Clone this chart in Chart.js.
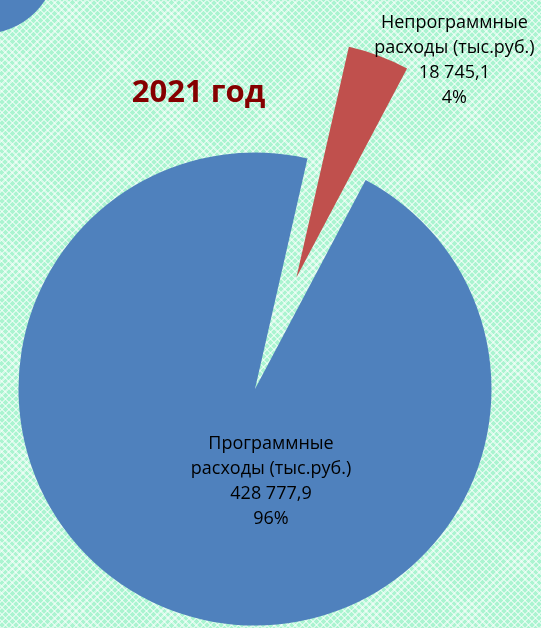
<!DOCTYPE html>
<html>
<head>
<meta charset="utf-8">
<script src="https://cdn.jsdelivr.net/npm/chart.js@4.4.1/dist/chart.umd.min.js"></script>
<style>
  html, body { margin: 0; padding: 0; }
  body {
    width: 541px; height: 628px; overflow: hidden; position: relative;
    background-color: #aaf4d0;
    background-image:
      repeating-linear-gradient(45deg, rgba(255,255,255,0.55) 0px, rgba(255,255,255,0.55) 1.6px, rgba(255,255,255,0) 1.6px, rgba(255,255,255,0) 5px),
      repeating-linear-gradient(-45deg, rgba(255,255,255,0.55) 0px, rgba(255,255,255,0.55) 1.6px, rgba(255,255,255,0) 1.6px, rgba(255,255,255,0) 5px);
  }
  #main { position: absolute; left: 0; top: 0; }
  #prev { position: absolute; left: -117px; top: -140px; }
  #title {
    position: absolute; left: 0; top: 75px; width: 397px; text-align: center;
    font: bold 31px "Open Sans", sans-serif; line-height: 1; color: #850000;
  }
</style>
</head>
<body>
<canvas id="prev" width="200" height="200"></canvas>
<canvas id="main" width="541" height="628"></canvas>
<div id="title">2021 год</div>
<script>
// ---- data ----
const categories = ['Программные расходы (тыс.руб.)', 'Непрограммные расходы (тыс.руб.)'];
const values = [428777.9, 18745.1];
const sliceColors = ['#4f81bd', '#c0504d'];
// fragment of the neighbouring chart visible at top-left corner
const prevCategories = ['Расходы'];
const prevValues = [1];
const prevColors = ['#4f81bd'];

// explosion distance of each slice (px, along its mid-angle)
const explode = [50.6, 68.4];

function fmt(v) {
  const parts = v.toFixed(1).split('.');
  return parts[0].replace(/\B(?=(\d{3})+(?!\d))/g, ' ') + ',' + parts[1];
}

function sliceCenter(arc, i) {
  const p = arc.getProps(['x', 'y', 'startAngle', 'endAngle'], true);
  const half = (p.startAngle + p.endAngle) / 2;
  const d = explode[i] || 0;
  return { x: p.x + Math.cos(half) * d, y: p.y + Math.sin(half) * d, dx: Math.cos(half) * d, dy: Math.sin(half) * d };
}

const explodePlugin = {
  id: 'explodeSlices',
  beforeDatasetDraw(chart, args) {
    const ctx = chart.ctx;
    args.meta.data.forEach((arc, i) => {
      const c = sliceCenter(arc, i);
      ctx.save();
      ctx.translate(c.dx, c.dy);
      arc.draw(ctx, chart.chartArea);
      ctx.restore();
    });
    return false;
  }
};

const labelPlugin = {
  id: 'sliceLabels',
  afterDatasetsDraw(chart, args, opts) {
    const ctx = chart.ctx;
    const meta = chart.getDatasetMeta(0);
    const data = chart.data.datasets[0].data;
    const total = data.reduce((a, b) => a + b, 0);
    ctx.save();
    ctx.font = opts.font;
    ctx.fillStyle = opts.color;
    ctx.textAlign = 'center';
    ctx.textBaseline = 'alphabetic';
    meta.data.forEach((arc, i) => {
      const c = sliceCenter(arc, i);
      const name = chart.data.labels[i];
      const sp = name.indexOf(' ');
      const lines = [name.slice(0, sp), name.slice(sp + 1), fmt(data[i]), Math.round(data[i] / total * 100) + '%'];
      const o = opts.offsets[i];
      lines.forEach((t, k) => ctx.fillText(t, c.x + o[0], c.y + o[1] + k * opts.lineHeight));
    });
    ctx.restore();
  }
};

new Chart(document.getElementById('main'), {
  type: 'pie',
  data: {
    labels: categories,
    datasets: [{
      data: values,
      backgroundColor: sliceColors,
      borderWidth: 0,
      radius: 236.5,
      rotation: 27.9,
      clip: false
    }]
  },
  options: {
    responsive: false,
    animation: false,
    events: [],
    rotation: 27.9,
    layout: { padding: { left: 4.2, top: 55.2, right: 0, bottom: 0 } },
    plugins: {
      legend: { display: false },
      tooltip: { enabled: false },
      sliceLabels: {
        font: '18px "Open Sans"',
        color: '#000000',
        lineHeight: 25,
        offsets: [[16, 60], [158, -249]]
      }
    }
  },
  plugins: [explodePlugin, labelPlugin]
});

new Chart(document.getElementById('prev'), {
  type: 'pie',
  data: {
    labels: prevCategories,
    datasets: [{ data: prevValues, backgroundColor: prevColors, borderWidth: 0, radius: 74 }]
  },
  options: {
    responsive: false,
    animation: false,
    events: [],
    layout: { padding: 0 },
    plugins: { legend: { display: false }, tooltip: { enabled: false } }
  }
});
</script>
</body>
</html>
